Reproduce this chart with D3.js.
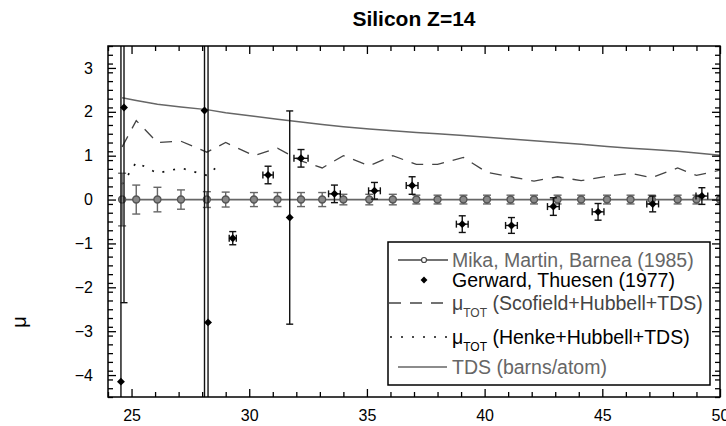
<!DOCTYPE html>
<html>
<head>
<meta charset="utf-8">
<script src="https://cdn.jsdelivr.net/npm/d3@7"></script>
<style>
  body { margin: 0; background: #fff; }
  svg { font-family: "Liberation Sans", Arial, sans-serif; }
</style>
</head>
<body>
<div id="chart"></div>
<script>
// energies (keV) of the Mika et al. points, also used for the computed curves
var energy = [24.6, 25.2, 26.1, 27.1, 28.2, 29.0, 30.2, 31.2, 32.2, 33.1, 34.0, 35.1, 36.1, 37.1,
  38.0, 39.1, 40.1, 41.1, 42.1, 43.1, 44.1, 45.2, 46.2, 47.1, 48.2, 49.0, 50.0];
var mikaVal = [0, 0, 0, 0, 0, 0, 0, 0, 0, 0, 0, 0, 0, 0, 0, 0, 0, 0, 0, 0, 0, 0, 0, 0, 0, 0, 0];
var mikaErr = [0.6, 0.33, 0.28, 0.22, 0.18, 0.17, 0.16, 0.16, 0.16, 0.16, 0.12, 0.12, 0.12, 0.1,
  0.1, 0.1, 0.1, 0.1, 0.1, 0.1, 0.1, 0.1, 0.1, 0.1, 0.1, 0.1, 0.1];
var tdsVal = [2.32, 2.26, 2.17, 2.11, 2.05, 1.98, 1.9, 1.83, 1.77, 1.71, 1.66, 1.61, 1.57, 1.53,
  1.5, 1.46, 1.42, 1.38, 1.34, 1.3, 1.26, 1.21, 1.17, 1.14, 1.1, 1.06, 1.01];
var scofieldVal = [1.2, 1.8, 1.3, 1.33, 1.08, 1.3, 1.0, 1.17, 0.88, 0.72, 1.0, 0.77, 1.0, 0.8,
  0.8, 0.96, 0.62, 0.52, 0.42, 0.52, 0.43, 0.53, 0.6, 0.5, 0.72, 0.55, 0.67];

var henkeE = [24.6, 25.2, 26.1, 27.1, 28.2, 28.7];
var henkeVal = [0.35, 0.85, 0.6, 0.72, 0.55, 0.78];

var gerE = [24.55, 24.68, 28.1, 28.25, 29.3, 30.8, 31.72, 32.2, 33.62, 35.32, 36.92, 39.05, 41.14,
  42.92, 44.82, 47.14, 49.23];
var gerVal = [-4.15, 2.1, 2.03, -2.8, -0.88, 0.56, -0.41, 0.94, 0.13, 0.2, 0.32, -0.56, -0.59,
  -0.16, -0.28, -0.1, 0.08];
var gerErr = [9, 4.45, 7, 7, 0.15, 0.2, 2.43, 0.2, 0.2, 0.19, 0.2, 0.19, 0.18, 0.2, 0.19, 0.18, 0.19];
var gerXErr = [0, 0, 0, 0, 0.15, 0.22, 0, 0.3, 0.25, 0.25, 0.25, 0.25, 0.25, 0.25, 0.25, 0.25, 0.25];

var xMajor = [25, 30, 35, 40, 45, 50];
var yMajor = [-4, -3, -2, -1, 0, 1, 2, 3];

var width = 726, height = 426;
var pLeft = 108, pRight = 720, pTop = 46, pBottom = 397;

var svg = d3.select("#chart").append("svg")
    .attr("width", width)
    .attr("height", height);

var x = d3.scaleLinear().domain([24, 50]).range([pLeft, pRight]);
var y = d3.scaleLinear().domain([-4.5, 3.5]).range([pBottom, pTop]);

svg.append("clipPath").attr("id", "clip")
  .append("rect")
    .attr("x", pLeft).attr("y", pTop)
    .attr("width", pRight - pLeft).attr("height", pBottom - pTop);

var plot = svg.append("g").attr("clip-path", "url(#clip)");

function zip(xs, ys) {
  return xs.map(function(v, i) { return [v, ys[i]]; });
}

var line = d3.line()
    .x(function(d) { return x(d[0]); })
    .y(function(d) { return y(d[1]); });

// TDS curve
plot.append("path")
    .datum(zip(energy, tdsVal))
    .attr("d", line)
    .attr("fill", "none")
    .attr("stroke", "#666")
    .attr("stroke-width", 1.5);

// Scofield dashed
plot.append("path")
    .datum(zip(energy, scofieldVal))
    .attr("d", line)
    .attr("fill", "none")
    .attr("stroke", "#444")
    .attr("stroke-width", 1.3)
    .attr("stroke-dasharray", "12,9");

// Henke dotted
plot.append("path")
    .datum(zip(henkeE, henkeVal))
    .attr("d", line)
    .attr("fill", "none")
    .attr("stroke", "#111")
    .attr("stroke-width", 1.7)
    .attr("stroke-dasharray", "2,9");

// Mika: line at zero, error bars, circles
plot.append("path")
    .datum(zip(energy, mikaVal))
    .attr("d", line)
    .attr("fill", "none")
    .attr("stroke", "#666")
    .attr("stroke-width", 1.8);

var mika = plot.append("g").attr("stroke", "#666").attr("stroke-width", 1.4)
  .selectAll("g")
  .data(energy.map(function(e, i) { return {e: e, v: mikaVal[i], err: mikaErr[i]}; }))
  .enter().append("g");

mika.append("line")
    .attr("x1", function(d) { return x(d.e); }).attr("x2", function(d) { return x(d.e); })
    .attr("y1", function(d) { return y(d.v + d.err); }).attr("y2", function(d) { return y(d.v - d.err); });
mika.append("line")
    .attr("x1", function(d) { return x(d.e) - 4; }).attr("x2", function(d) { return x(d.e) + 4; })
    .attr("y1", function(d) { return y(d.v + d.err); }).attr("y2", function(d) { return y(d.v + d.err); });
mika.append("line")
    .attr("x1", function(d) { return x(d.e) - 4; }).attr("x2", function(d) { return x(d.e) + 4; })
    .attr("y1", function(d) { return y(d.v - d.err); }).attr("y2", function(d) { return y(d.v - d.err); });
mika.append("circle")
    .attr("cx", function(d) { return x(d.e); })
    .attr("cy", function(d) { return y(d.v); })
    .attr("r", 3.5)
    .attr("fill", "#888")
    .attr("stroke", "#555");

// Gerward: error bars in x and y, diamonds
var ger = plot.append("g").attr("stroke", "#111").attr("stroke-width", 1.4)
  .selectAll("g")
  .data(gerE.map(function(e, i) { return {e: e, v: gerVal[i], err: gerErr[i], xerr: gerXErr[i]}; }))
  .enter().append("g");

ger.append("line")
    .attr("x1", function(d) { return x(d.e); }).attr("x2", function(d) { return x(d.e); })
    .attr("y1", function(d) { return y(d.v + d.err); }).attr("y2", function(d) { return y(d.v - d.err); });
ger.append("line")
    .attr("x1", function(d) { return x(d.e) - 3.5; }).attr("x2", function(d) { return x(d.e) + 3.5; })
    .attr("y1", function(d) { return y(d.v + d.err); }).attr("y2", function(d) { return y(d.v + d.err); });
ger.append("line")
    .attr("x1", function(d) { return x(d.e) - 3.5; }).attr("x2", function(d) { return x(d.e) + 3.5; })
    .attr("y1", function(d) { return y(d.v - d.err); }).attr("y2", function(d) { return y(d.v - d.err); });
ger.filter(function(d) { return d.xerr > 0; }).each(function(d) {
  var g = d3.select(this);
  g.append("line")
      .attr("x1", x(d.e - d.xerr)).attr("x2", x(d.e + d.xerr))
      .attr("y1", y(d.v)).attr("y2", y(d.v));
  g.append("line")
      .attr("x1", x(d.e - d.xerr)).attr("x2", x(d.e - d.xerr))
      .attr("y1", y(d.v) - 3.5).attr("y2", y(d.v) + 3.5);
  g.append("line")
      .attr("x1", x(d.e + d.xerr)).attr("x2", x(d.e + d.xerr))
      .attr("y1", y(d.v) - 3.5).attr("y2", y(d.v) + 3.5);
});
ger.append("path")
    .attr("transform", function(d) { return "translate(" + x(d.e) + "," + y(d.v) + ")"; })
    .attr("d", d3.symbol(d3.symbolDiamond2, 40))
    .attr("fill", "#000")
    .attr("stroke", "none");

// frame and ticks (all pointing inward)
svg.append("rect")
    .attr("x", pLeft).attr("y", pTop)
    .attr("width", pRight - pLeft).attr("height", pBottom - pTop)
    .attr("fill", "none")
    .attr("stroke", "#000")
    .attr("stroke-width", 1.5);

var xMinor = d3.range(24, 51, 1).filter(function(v) { return v % 5 !== 0; });
var yMinor = d3.range(-45, 36, 2).map(function(v) { return v / 10; })
    .filter(function(v) { return Math.abs(v - Math.round(v)) > 1e-6; });

function styleAxis(g) {
  g.select(".domain").remove();
  g.selectAll("line").attr("stroke", "#000").attr("stroke-width", 1.3);
  g.selectAll("text").attr("font-size", 16).attr("fill", "#000");
}

svg.append("g").attr("transform", "translate(0," + pBottom + ")")
    .call(d3.axisBottom(x).tickValues(xMajor).tickSize(-8).tickPadding(13).tickFormat(d3.format("d")))
    .call(styleAxis);
svg.append("g").attr("transform", "translate(0," + pBottom + ")")
    .call(d3.axisBottom(x).tickValues(xMinor).tickSize(-5).tickFormat(""))
    .call(styleAxis);
svg.append("g").attr("transform", "translate(0," + pTop + ")")
    .call(d3.axisTop(x).tickValues(xMajor).tickSize(-8).tickFormat(""))
    .call(styleAxis);
svg.append("g").attr("transform", "translate(0," + pTop + ")")
    .call(d3.axisTop(x).tickValues(xMinor).tickSize(-5).tickFormat(""))
    .call(styleAxis);

svg.append("g").attr("transform", "translate(" + pLeft + ",0)")
    .call(d3.axisLeft(y).tickValues(yMajor).tickSize(-8).tickPadding(15).tickFormat(d3.format("d")))
    .call(styleAxis);
svg.append("g").attr("transform", "translate(" + pLeft + ",0)")
    .call(d3.axisLeft(y).tickValues(yMinor).tickSize(-5).tickFormat(""))
    .call(styleAxis);
svg.append("g").attr("transform", "translate(" + pRight + ",0)")
    .call(d3.axisRight(y).tickValues(yMajor).tickSize(-8).tickFormat(""))
    .call(styleAxis);
svg.append("g").attr("transform", "translate(" + pRight + ",0)")
    .call(d3.axisRight(y).tickValues(yMinor).tickSize(-5).tickFormat(""))
    .call(styleAxis);

// title and axis label
svg.append("text")
    .attr("x", (pLeft + pRight) / 2)
    .attr("y", 26)
    .attr("text-anchor", "middle")
    .attr("font-size", 21)
    .attr("font-weight", "bold")
    .text("Silicon Z=14");

svg.append("text")
    .attr("transform", "translate(26,322) rotate(-90)")
    .attr("text-anchor", "middle")
    .attr("font-size", 20)
    .text("μ");

// legend
var legend = svg.append("g");
legend.append("rect")
    .attr("x", 388).attr("y", 242)
    .attr("width", 322).attr("height", 143)
    .attr("fill", "#fff")
    .attr("stroke", "#000")
    .attr("stroke-width", 1.5);

var rows = [
  {y: 260, label: "Mika, Martin, Barnea (1985)", color: "#666", kind: "mika"},
  {y: 280, label: "Gerward, Thuesen (1977)", color: "#000", kind: "ger"},
  {y: 303, label: "(Scofield+Hubbell+TDS)", color: "#444", kind: "dash", mu: true},
  {y: 337, label: "(Henke+Hubbell+TDS)", color: "#000", kind: "dot", mu: true},
  {y: 367, label: "TDS (barns/atom)", color: "#666", kind: "tds"}
];

rows.forEach(function(r) {
  if (r.kind === "mika") {
    legend.append("line").attr("x1", 398).attr("x2", 448).attr("y1", r.y).attr("y2", r.y)
        .attr("stroke", "#444").attr("stroke-width", 1.3);
    legend.append("circle").attr("cx", 424).attr("cy", r.y).attr("r", 2.5)
        .attr("fill", "#fff").attr("stroke", "#444").attr("stroke-width", 1.2);
  } else if (r.kind === "ger") {
    legend.append("path").attr("transform", "translate(424," + r.y + ")")
        .attr("d", d3.symbol(d3.symbolDiamond2, 30)).attr("fill", "#000");
  } else if (r.kind === "dash") {
    legend.append("line").attr("x1", 389).attr("x2", 447).attr("y1", r.y).attr("y2", r.y)
        .attr("stroke", "#444").attr("stroke-width", 1.3).attr("stroke-dasharray", "12,9");
  } else if (r.kind === "dot") {
    legend.append("line").attr("x1", 390).attr("x2", 447).attr("y1", r.y).attr("y2", r.y)
        .attr("stroke", "#111").attr("stroke-width", 1.7).attr("stroke-dasharray", "2,9");
  } else {
    legend.append("line").attr("x1", 398).attr("x2", 447).attr("y1", r.y).attr("y2", r.y)
        .attr("stroke", "#666").attr("stroke-width", 1.5);
  }

  var t = legend.append("text")
      .attr("x", 452)
      .attr("y", r.y + 6.5)
      .attr("font-size", 19.5)
      .attr("fill", r.color);
  if (r.mu) {
    t.append("tspan").text("μ");
    t.append("tspan").attr("font-size", 12).attr("dy", 7).text("TOT");
    t.append("tspan").attr("dy", -7).text(" " + r.label);
  } else {
    t.text(r.label);
  }
});
</script>
</body>
</html>
